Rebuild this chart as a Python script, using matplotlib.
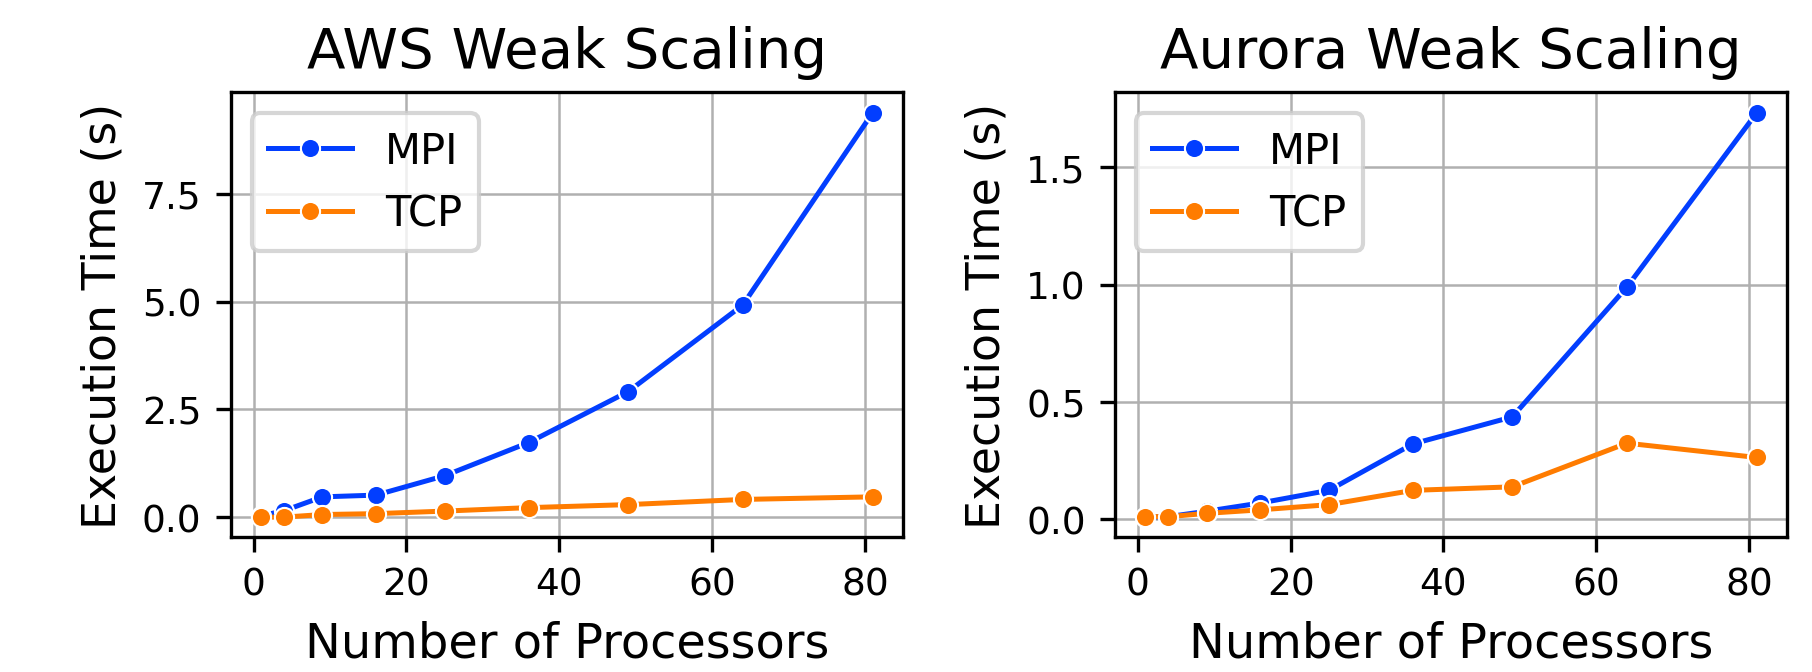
import matplotlib
matplotlib.use("Agg")
import matplotlib.pyplot as plt

# processors (perfect squares)
procs = [1, 4, 9, 16, 25, 36, 49, 64, 81]

# AWS weak scaling, seconds
aws_mpi = [0.03, 0.15, 0.47, 0.51, 0.96, 1.73, 2.91, 4.92, 9.38]
aws_tcp = [0.00, 0.00, 0.06, 0.08, 0.14, 0.22, 0.29, 0.41, 0.47]

# Aurora weak scaling, seconds
aurora_mpi = [0.01, 0.012, 0.035, 0.07, 0.124, 0.322, 0.437, 0.99, 1.733]
aurora_tcp = [0.012, 0.012, 0.026, 0.041, 0.063, 0.124, 0.139, 0.325, 0.264]

titles = ["AWS Weak Scaling", "Aurora Weak Scaling"]
blue = "#023eff"
orange = "#ff7c00"

fig = plt.figure(figsize=(6.04, 2.2433), dpi=300)
ax1 = fig.add_axes([0.1273, 0.2001, 0.3712, 0.661])
ax2 = fig.add_axes([0.6153, 0.2001, 0.3711, 0.661])

for ax, mpi, tcp, title in [(ax1, aws_mpi, aws_tcp, titles[0]),
                            (ax2, aurora_mpi, aurora_tcp, titles[1])]:
    ax.plot(procs, mpi, color=blue, marker="o", markersize=4.6,
            markeredgecolor="white", markeredgewidth=0.5, linewidth=1.2, label="MPI")
    ax.plot(procs, tcp, color=orange, marker="o", markersize=4.6,
            markeredgecolor="white", markeredgewidth=0.5, linewidth=1.2, label="TCP")
    ax.grid(True, color="#b0b0b0", linewidth=0.6)
    ax.set_axisbelow(True)
    ax.set_title(title, fontsize=13.5)
    ax.set_xlabel("Number of Processors", fontsize=11.5)
    ax.set_ylabel("Execution Time (s)", fontsize=11)
    ax.tick_params(labelsize=9)
    ax.set_xticks([0, 20, 40, 60, 80])
    ax.legend(loc="upper left", fontsize=10)

ax1.set_yticks([0, 2.5, 5.0, 7.5])
ax2.set_yticks([0, 0.5, 1.0, 1.5])

fig.savefig("out.png", dpi=300)
